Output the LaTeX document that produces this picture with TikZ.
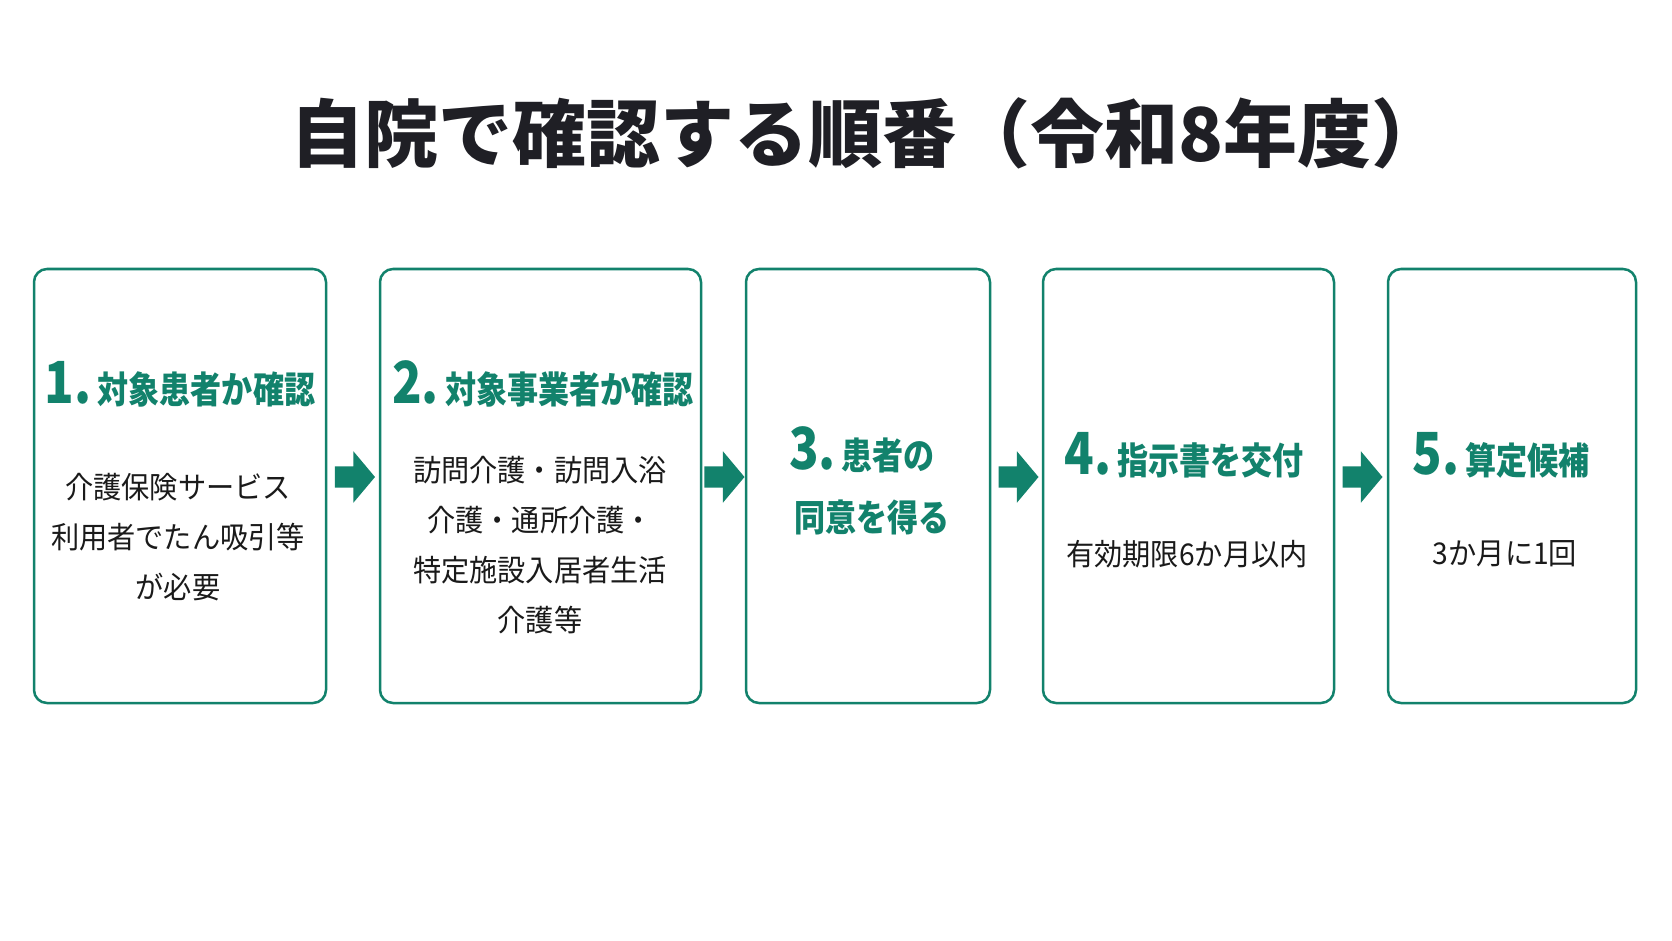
\documentclass[tikz,border=0pt]{standalone}
\usepackage{fontspec}
\newfontfamily\jpfont{Noto Sans CJK JP}
\newfontfamily\jpcond[FakeStretch=0.84]{Noto Sans CJK JP}
\newfontfamily\jpbody[FakeStretch=0.94]{Noto Sans CJK JP}
\usetikzlibrary{shapes.arrows}
\definecolor{stepgreen}{HTML}{12826C}
\definecolor{titleink}{HTML}{1F1F25}
\definecolor{bodyink}{HTML}{1A1A1A}
\newcommand\stepno[1]{{\fontsize{58}{58}\selectfont #1}\hspace{6pt}}

\begin{document}
\begin{tikzpicture}[x=1pt,y=-1pt,
  stepbox/.style={draw=stepgreen, line width=2.5pt, rounded corners=13pt,
    minimum height=434pt, inner sep=0pt},
  headtxt/.style={anchor=base, inner sep=0pt, text=stepgreen,
    font=\jpcond\bfseries\fontsize{37}{62}\selectfont},
  bodytxt/.style={inner sep=0pt, align=center, text=bodyink,
    font=\jpbody\fontsize{30}{50}\selectfont},
  flowarrow/.style={single arrow, fill=stepgreen, inner xsep=0pt,
    inner ysep=10.5pt, minimum height=40pt,
    single arrow head extend=15pt, single arrow tip angle=100}]

% canvas
\useasboundingbox[fill=white] (0,0) rectangle (1672,941);

% title
\node[anchor=west, inner sep=0pt, text=titleink,
  font=\jpfont\bfseries\fontsize{74}{74}\selectfont] (title) at (290,133)
  {自院で確認する順番（令和8年度）};

% step boxes
\node[stepbox, minimum width=292pt] (b1) at (180,486) {};
\node[stepbox, minimum width=321pt] (b2) at (540.5,486) {};
\node[stepbox, minimum width=244pt] (b3) at (868,486) {};
\node[stepbox, minimum width=291pt] (b4) at (1188.5,486) {};
\node[stepbox, minimum width=248pt] (b5) at (1512,486) {};

% arrows between boxes
\foreach \x [count=\i] in {350.5,720,1014,1358}
  \node[flowarrow] (a\i) at (\x,477) {};

% headings
\node[headtxt] (h1) at (180,403) {\stepno{1.}対象患者か確認};
\node[headtxt] (h2) at (543,403) {\stepno{2.}対象事業者か確認};
\node[headtxt] (h3) at (862,469) {\stepno{3.}患者の};
\node[headtxt] (h3b) at (872,531) {同意を得る};
\node[headtxt] (h4) at (1184,474) {\stepno{4.}指示書を交付};
\node[headtxt] (h5) at (1501,474) {\stepno{5.}算定候補};

% body texts
\node[bodytxt] (t1) at (178,537) {介護保険サービス\\利用者でたん吸引等\\が必要};
\node[bodytxt] (t2) at (540,545.5) {訪問介護・訪問入浴\\介護・通所介護・\\特定施設入居者生活\\介護等};
\node[bodytxt] (t4) at (1187,554) {有効期限6か月以内};
\node[bodytxt] (t5) at (1505,554) {3か月に1回};

\end{tikzpicture}
\end{document}
